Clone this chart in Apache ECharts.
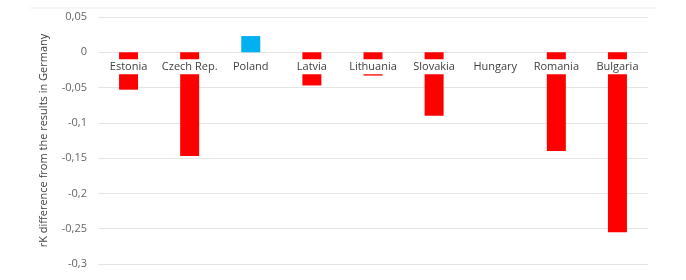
<!DOCTYPE html>
<html><head><meta charset="utf-8">
<script src="https://cdn.jsdelivr.net/npm/echarts@6/dist/echarts.min.js"></script>
<style>html,body{margin:0;padding:0;background:#fff}#c{width:686px;height:280px}</style>
</head><body><div id="c"></div>
<script>
var categories = ['Estonia','Czech Rep.','Poland','Latvia','Lithuania','Slovakia','Hungary','Romania','Bulgaria'];
var values = [-0.053,-0.147,0.023,-0.047,-0.033,-0.090,0,-0.140,-0.255];
var yTicks = [0.05,0,-0.05,-0.1,-0.15,-0.2,-0.25,-0.3];

var yMin = yTicks[yTicks.length-1], yMax = yTicks[0];
var gridTop = 17, gridBottom = 16, H = 280;
var gridH = H - gridTop - gridBottom;
var zeroOffset = -gridH * (0 - yMin) / (yMax - yMin);

var chart = echarts.init(document.getElementById('c'));
chart.setOption({
  animation:false,
  backgroundColor:'#fff',
  graphic:[{type:'line',shape:{x1:30,y1:8,x2:656,y2:8},style:{stroke:'#ececec',lineWidth:1},silent:true}],
  grid:{left:98,right:38,top:gridTop,bottom:gridBottom,containLabel:false},
  xAxis:{
    type:'category',data:categories,z:10,position:'bottom',offset:zeroOffset,
    axisLine:{show:false,onZero:false},axisTick:{show:false},
    axisLabel:{color:'#404040',fontSize:11,fontFamily:'Open Sans',margin:7,
      backgroundColor:'#fff',padding:[2,2,2,2],interval:0}
  },
  yAxis:{
    type:'value',min:yMin,max:yMax,interval:0.05,
    name:'rK difference from the results in Germany',nameLocation:'middle',nameGap:49,
    nameRotate:90,
    nameTextStyle:{color:'#404040',fontSize:11,fontFamily:'Open Sans'},
    axisLine:{show:false},axisTick:{show:false},
    splitLine:{lineStyle:{color:'#e4e4e4',width:1}},
    axisLabel:{color:'#666',fontSize:11,fontFamily:'Open Sans',margin:11,
      formatter:function(v){var r=Math.round(v*100)/100; return String(r).replace('.',',');}}
  },
  series:[{
    type:'bar',data:values,barWidth:19,z:2,
    itemStyle:{color:function(p){return p.value>0?'#00B0F0':'#FF0000';}}
  }]
});
</script></body></html>
